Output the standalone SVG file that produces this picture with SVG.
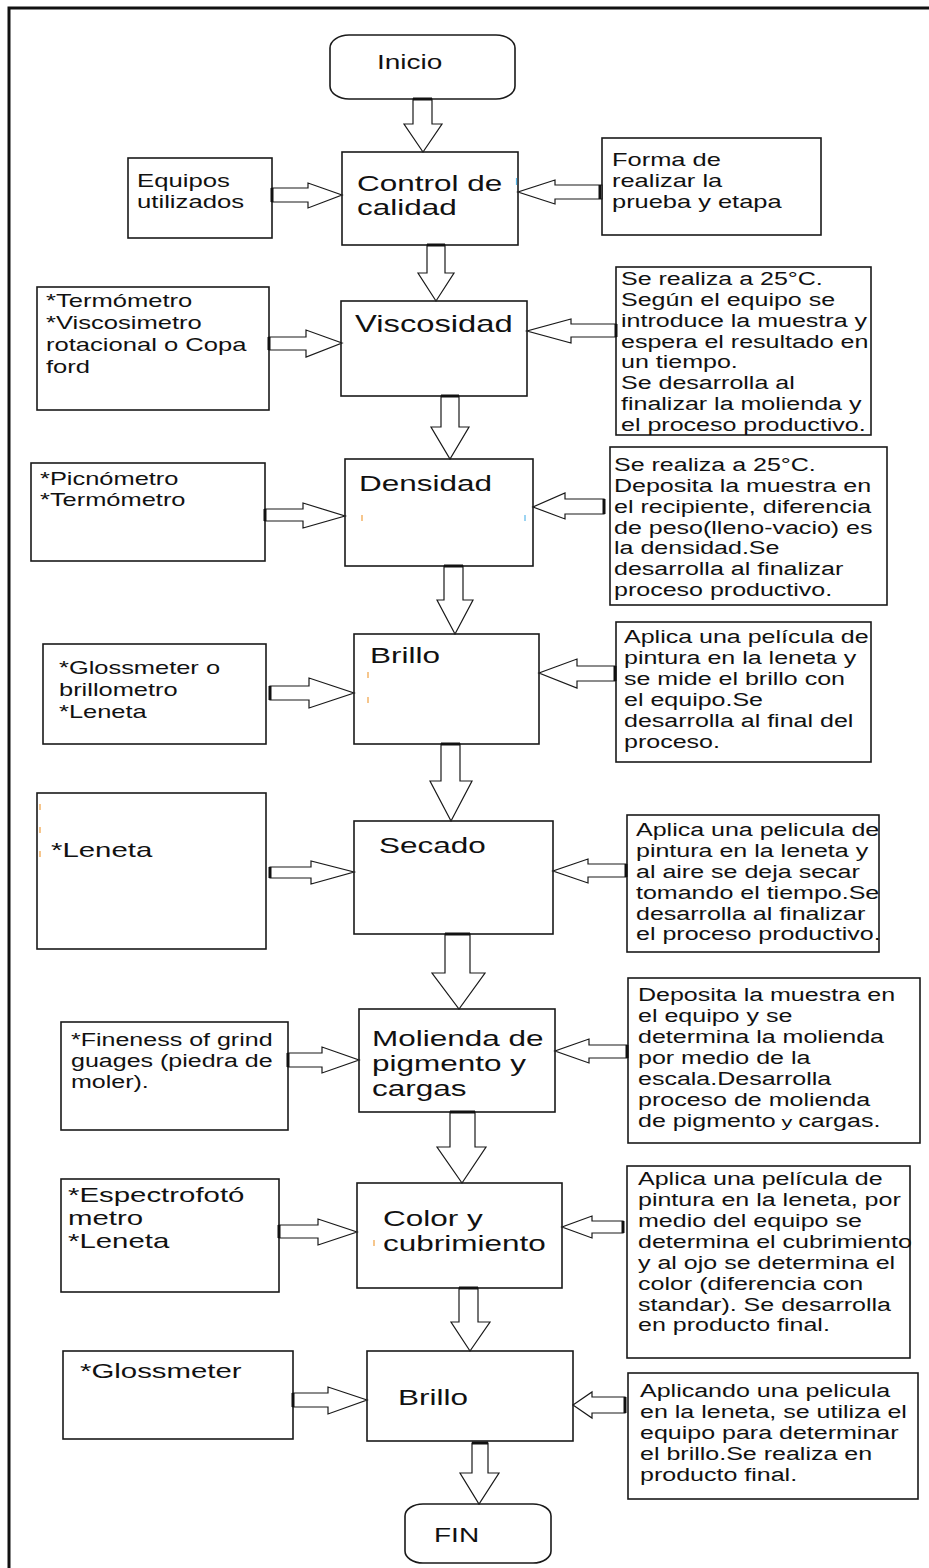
<svg xmlns="http://www.w3.org/2000/svg" width="929" height="1568" viewBox="0 0 929 1568">
  <style>
    text { font-family: "Liberation Sans", Arial, sans-serif; fill: #111; }
    .sm { font-size: 18px; }
    .md { font-size: 21px; }
    .lg { font-size: 22.5px; }
    .tm { font-size: 20px; }
    .box { fill: #fff; stroke: #1a1a1a; stroke-width: 1.6; }
    .term { fill: #fff; stroke: #1a1a1a; stroke-width: 1.6; }
    .arrow { fill: #fff; stroke: #1a1a1a; stroke-width: 1.2; stroke-linejoin: miter; }
    .back { stroke: #111; stroke-width: 3; }
    .frame { stroke: #111; stroke-width: 3; fill: none; }
    .tick-o { stroke: #f0a040; stroke-width: 1.2; }
    .tick-b { stroke: #5ab8ea; stroke-width: 1.2; }
  </style>

  <!-- page frame (top and left edges only) -->
  <polyline class="frame" points="9,1568 9,8 929,8"/>

  <!-- main flow -->
  <g id="inicio">
    <rect class="term" x="330" y="35" width="185" height="64" rx="19" ry="13"/>
    <text class="tm" transform="matrix(1.4 0 0 1 377 0)"><tspan x="0" y="69">Inicio</tspan></text>
  </g>

  <g id="control">
    <rect class="box" x="342" y="152" width="176" height="93"/>
    <text class="lg" transform="matrix(1.4 0 0 1 357 0)"><tspan x="0" y="191">Control de</tspan><tspan x="0" y="215">calidad</tspan></text>
    <line class="tick-b" x1="516.5" y1="178" x2="516.5" y2="185"/>
  </g>

  <g id="equipos">
    <rect class="box" x="128" y="158" width="144" height="80"/>
    <text class="sm" style="font-size:18.5px" transform="matrix(1.39 0 0 1 137 0)"><tspan x="0" y="187">Equipos</tspan><tspan x="0" y="208">utilizados</tspan></text>
  </g>

  <g id="forma">
    <rect class="box" x="602" y="138" width="219" height="97"/>
    <text class="sm" style="font-size:18.3px" transform="matrix(1.39 0 0 1 612 0)"><tspan x="0" y="166">Forma de</tspan><tspan x="0" y="187">realizar la</tspan><tspan x="0" y="208">prueba y etapa</tspan></text>
  </g>

  <g id="viscosidad">
    <rect class="box" x="341" y="301" width="186" height="95"/>
    <text class="lg" style="font-size:23.4px" transform="matrix(1.4 0 0 1 355 0)"><tspan x="0" y="332">Viscosidad</tspan></text>
  </g>

  <g id="visc-equipos">
    <rect class="box" x="37" y="287" width="232" height="123"/>
    <text class="sm" style="font-size:18.4px" transform="matrix(1.39 0 0 1 46 0)"><tspan x="0" y="307">*Termómetro</tspan><tspan x="0" y="329">*Viscosimetro</tspan><tspan x="0" y="351">rotacional o Copa</tspan><tspan x="0" y="373">ford</tspan></text>
  </g>

  <g id="visc-prueba">
    <rect class="box" x="616" y="267" width="255" height="168"/>
    <text class="sm" transform="matrix(1.39 0 0 1 621 0)"><tspan x="0" y="285">Se realiza a 25°C.</tspan><tspan x="0" y="306">Según el equipo se</tspan><tspan x="0" y="327">introduce la muestra y</tspan><tspan x="0" y="348">espera el resultado en</tspan><tspan x="0" y="368">un tiempo.</tspan><tspan x="0" y="389">Se desarrolla al</tspan><tspan x="0" y="410">finalizar la molienda y</tspan><tspan x="0" y="431">el proceso productivo.</tspan></text>
  </g>

  <g id="densidad">
    <rect class="box" x="345" y="459" width="188" height="107"/>
    <text class="lg" transform="matrix(1.4 0 0 1 359 0)"><tspan x="0" y="491">Densidad</tspan></text>
    <line class="tick-o" x1="362" y1="515" x2="362" y2="521"/>
    <line class="tick-b" x1="525" y1="515" x2="525" y2="521"/>
  </g>

  <g id="dens-equipos">
    <rect class="box" x="31" y="463" width="234" height="98"/>
    <text class="sm" style="font-size:18.3px" transform="matrix(1.39 0 0 1 40 0)"><tspan x="0" y="485">*Picnómetro</tspan><tspan x="0" y="506">*Termómetro</tspan></text>
  </g>

  <g id="dens-prueba">
    <rect class="box" x="610" y="447" width="277" height="158"/>
    <text class="sm" transform="matrix(1.39 0 0 1 614 0)"><tspan x="0" y="471">Se realiza a 25°C.</tspan><tspan x="0" y="492">Deposita la muestra en</tspan><tspan x="0" y="513">el recipiente, diferencia</tspan><tspan x="0" y="534">de peso(lleno-vacio) es</tspan><tspan x="0" y="554">la densidad.Se</tspan><tspan x="0" y="575">desarrolla al finalizar</tspan><tspan x="0" y="596">proceso productivo.</tspan></text>
  </g>

  <g id="brillo-1">
    <rect class="box" x="354" y="634" width="185" height="110"/>
    <text class="lg" transform="matrix(1.4 0 0 1 370 0)"><tspan x="0" y="663">Brillo</tspan></text>
    <line class="tick-o" x1="368" y1="672" x2="368" y2="678"/>
    <line class="tick-o" x1="368" y1="697" x2="368" y2="703"/>
  </g>

  <g id="brillo-1-equipos">
    <rect class="box" x="43" y="644" width="223" height="100"/>
    <text class="sm" style="font-size:18.3px" transform="matrix(1.39 0 0 1 59 0)"><tspan x="0" y="674">*Glossmeter o</tspan><tspan x="0" y="696">brillometro</tspan><tspan x="0" y="718">*Leneta</tspan></text>
  </g>

  <g id="brillo-1-prueba">
    <rect class="box" x="616" y="622" width="255" height="140"/>
    <text class="sm" transform="matrix(1.39 0 0 1 624 0)"><tspan x="0" y="643">Aplica una película de</tspan><tspan x="0" y="664">pintura en la leneta y</tspan><tspan x="0" y="685">se mide el brillo con</tspan><tspan x="0" y="706">el equipo.Se</tspan><tspan x="0" y="727">desarrolla al final del</tspan><tspan x="0" y="748">proceso.</tspan></text>
  </g>

  <g id="secado">
    <rect class="box" x="354" y="821" width="199" height="113"/>
    <text class="lg" transform="matrix(1.4 0 0 1 379 0)"><tspan x="0" y="853">Secado</tspan></text>
  </g>

  <g id="secado-equipos">
    <rect class="box" x="37" y="793" width="229" height="156"/>
    <text class="md" transform="matrix(1.4 0 0 1 51 0)"><tspan x="0" y="857">*Leneta</tspan></text>
    <line class="tick-o" x1="40" y1="804" x2="40" y2="810"/>
    <line class="tick-o" x1="40" y1="827" x2="40" y2="833"/>
    <line class="tick-o" x1="40" y1="851" x2="40" y2="857"/>
  </g>

  <g id="secado-prueba">
    <rect class="box" x="627" y="815" width="252" height="137"/>
    <text class="sm" transform="matrix(1.39 0 0 1 636 0)"><tspan x="0" y="836">Aplica una pelicula de</tspan><tspan x="0" y="857">pintura en la leneta y</tspan><tspan x="0" y="878">al aire se deja secar</tspan><tspan x="0" y="899">tomando el tiempo.Se</tspan><tspan x="0" y="920">desarrolla al finalizar</tspan><tspan x="0" y="940">el proceso productivo.</tspan></text>
  </g>

  <g id="molienda">
    <rect class="box" x="359" y="1009" width="196" height="103"/>
    <text class="lg" transform="matrix(1.4 0 0 1 372 0)"><tspan x="0" y="1046">Molienda de</tspan><tspan x="0" y="1071">pigmento y</tspan><tspan x="0" y="1096">cargas</tspan></text>
  </g>

  <g id="molienda-equipos">
    <rect class="box" x="61" y="1022" width="227" height="108"/>
    <text class="sm" transform="matrix(1.39 0 0 1 71 0)"><tspan x="0" y="1046">*Fineness of grind</tspan><tspan x="0" y="1067">guages (piedra de</tspan><tspan x="0" y="1088">moler).</tspan></text>
  </g>

  <g id="molienda-prueba">
    <rect class="box" x="628" y="978" width="292" height="165"/>
    <text class="sm" transform="matrix(1.39 0 0 1 638 0)"><tspan x="0" y="1001">Deposita la muestra en</tspan><tspan x="0" y="1022">el equipo y se</tspan><tspan x="0" y="1043">determina la molienda</tspan><tspan x="0" y="1064">por medio de la</tspan><tspan x="0" y="1085">escala.Desarrolla</tspan><tspan x="0" y="1106">proceso de molienda</tspan><tspan x="0" y="1127">de pigmento<tspan style="font-size:15.5px"> y </tspan>cargas.</tspan></text>
  </g>

  <g id="color">
    <rect class="box" x="357" y="1183" width="205" height="105"/>
    <text class="lg" transform="matrix(1.4 0 0 1 383 0)"><tspan x="0" y="1226">Color y</tspan><tspan x="0" y="1251">cubrimiento</tspan></text>
    <line class="tick-o" x1="374" y1="1240" x2="374" y2="1246"/>
  </g>

  <g id="color-equipos">
    <rect class="box" x="61" y="1179" width="218" height="113"/>
    <text class="md" transform="matrix(1.4 0 0 1 68 0)"><tspan x="0" y="1202">*Espectrofotó</tspan><tspan x="0" y="1225">metro</tspan><tspan x="0" y="1248">*Leneta</tspan></text>
  </g>

  <g id="color-prueba">
    <rect class="box" x="627" y="1166" width="283" height="192"/>
    <text class="sm" transform="matrix(1.39 0 0 1 638 0)"><tspan x="0" y="1185">Aplica una película de</tspan><tspan x="0" y="1206">pintura en la leneta, por</tspan><tspan x="0" y="1227">medio del equipo se</tspan><tspan x="0" y="1248">determina el cubrimiento</tspan><tspan x="0" y="1269">y al ojo se determina el</tspan><tspan x="0" y="1290">color (diferencia con</tspan><tspan x="0" y="1311">standar). Se desarrolla</tspan><tspan x="0" y="1331">en producto final.</tspan></text>
  </g>

  <g id="brillo-2">
    <rect class="box" x="367" y="1351" width="206" height="90"/>
    <text class="lg" transform="matrix(1.4 0 0 1 398 0)"><tspan x="0" y="1405">Brillo</tspan></text>
  </g>

  <g id="brillo-2-equipos">
    <rect class="box" x="63" y="1351" width="230" height="88"/>
    <text class="md" transform="matrix(1.4 0 0 1 80 0)"><tspan x="0" y="1378">*Glossmeter</tspan></text>
  </g>

  <g id="brillo-2-prueba">
    <rect class="box" x="628" y="1373" width="290" height="126"/>
    <text class="sm" transform="matrix(1.39 0 0 1 640 0)"><tspan x="0" y="1397">Aplicando una pelicula</tspan><tspan x="0" y="1418">en la leneta, se utiliza el</tspan><tspan x="0" y="1439">equipo para determinar</tspan><tspan x="0" y="1460">el brillo.Se realiza en</tspan><tspan x="0" y="1481">producto final.</tspan></text>
  </g>

  <g id="fin">
    <rect class="term" x="405" y="1504" width="146" height="59" rx="18" ry="12"/>
    <text class="tm" transform="matrix(1.4 0 0 1 434 0)"><tspan x="0" y="1542">FIN</tspan></text>
  </g>

  <!-- block arrows between steps -->
  <g id="connectors">
    <polygon class="arrow" points="413,99 413,124 404,124 423,152 442,124 432,124 432,99"/>
    <line class="back" x1="413" y1="99" x2="432" y2="99"/>
    <polygon class="arrow" points="272,188 308,188 308,183 342,195 308,208 308,202 272,202"/>
    <line class="back" x1="272" y1="188" x2="272" y2="202"/>
    <polygon class="arrow" points="602,185 555,185 555,180 518,192 555,204 555,199 602,199"/>
    <line class="back" x1="600" y1="185" x2="600" y2="199"/>

    <polygon class="arrow" points="427,245 427,273 418,273 436,301 454,273 445,273 445,245"/>
    <line class="back" x1="427" y1="245" x2="445" y2="245"/>
    <polygon class="arrow" points="269,337 306,337 306,330 342,343 306,357 306,350 269,350"/>
    <line class="back" x1="269" y1="337" x2="269" y2="350"/>
    <polygon class="arrow" points="616,324 571,324 571,319 527,331 571,343 571,337 616,337"/>
    <line class="back" x1="616" y1="324" x2="616" y2="337"/>

    <polygon class="arrow" points="441,396 441,427 431,427 450,459 469,427 459,427 459,396"/>
    <line class="back" x1="441" y1="396" x2="459" y2="396"/>
    <polygon class="arrow" points="265,509 303,509 303,503 345,516 303,528 303,521 265,521"/>
    <line class="back" x1="265" y1="509" x2="265" y2="521"/>
    <polygon class="arrow" points="604,499 565,499 565,493 533,507 565,519 565,514 604,514"/>
    <line class="back" x1="604" y1="499" x2="604" y2="514"/>

    <polygon class="arrow" points="444,566 444,600 437,600 455,634 473,600 463,600 463,566"/>
    <line class="back" x1="444" y1="566" x2="463" y2="566"/>
    <polygon class="arrow" points="270,686 309,686 309,678 354,693 309,708 309,700 270,700"/>
    <line class="back" x1="270" y1="686" x2="270" y2="700"/>
    <polygon class="arrow" points="615,666 577,666 577,659 539,673 577,688 577,681 615,681"/>
    <line class="back" x1="615" y1="666" x2="615" y2="681"/>

    <polygon class="arrow" points="441,744 441,781 430,781 451,821 472,781 460,781 460,744"/>
    <line class="back" x1="441" y1="744" x2="460" y2="744"/>
    <polygon class="arrow" points="270,867 311,867 311,861 354,872 311,884 311,878 270,878"/>
    <line class="back" x1="270" y1="867" x2="270" y2="878"/>
    <polygon class="arrow" points="626,864 588,864 588,859 553,871 588,883 588,877 626,877"/>
    <line class="back" x1="626" y1="864" x2="626" y2="877"/>

    <polygon class="arrow" points="445,934 445,973 432,973 459,1009 485,973 470,973 470,934"/>
    <line class="back" x1="445" y1="934" x2="470" y2="934"/>
    <polygon class="arrow" points="288,1053 322,1053 322,1047 359,1060 322,1073 322,1067 288,1067"/>
    <line class="back" x1="288" y1="1053" x2="288" y2="1067"/>
    <polygon class="arrow" points="627,1045 589,1045 589,1039 555,1051 589,1063 589,1058 627,1058"/>
    <line class="back" x1="627" y1="1045" x2="627" y2="1058"/>

    <polygon class="arrow" points="450,1112 450,1147 437,1147 462,1183 486,1147 475,1147 475,1112"/>
    <line class="back" x1="450" y1="1112" x2="475" y2="1112"/>
    <polygon class="arrow" points="279,1225 318,1225 318,1219 357,1232 318,1245 318,1238 279,1238"/>
    <line class="back" x1="279" y1="1225" x2="279" y2="1238"/>
    <polygon class="arrow" points="623,1221 592,1221 592,1216 562,1227 592,1238 592,1233 623,1233"/>
    <line class="back" x1="623" y1="1221" x2="623" y2="1233"/>

    <polygon class="arrow" points="459,1288 459,1322 451,1322 470,1351 490,1322 478,1322 478,1288"/>
    <line class="back" x1="459" y1="1288" x2="478" y2="1288"/>
    <polygon class="arrow" points="293,1393 328,1393 328,1387 367,1400 328,1414 328,1407 293,1407"/>
    <line class="back" x1="293" y1="1393" x2="293" y2="1407"/>
    <polygon class="arrow" points="625,1397 592,1397 592,1392 573,1405 592,1418 592,1413 625,1413"/>
    <line class="back" x1="625" y1="1397" x2="625" y2="1413"/>

    <polygon class="arrow" points="472,1443 472,1473 460,1473 479,1504 499,1473 488,1473 488,1443"/>
    <line class="back" x1="472" y1="1443" x2="488" y2="1443"/>
  </g>
</svg>
